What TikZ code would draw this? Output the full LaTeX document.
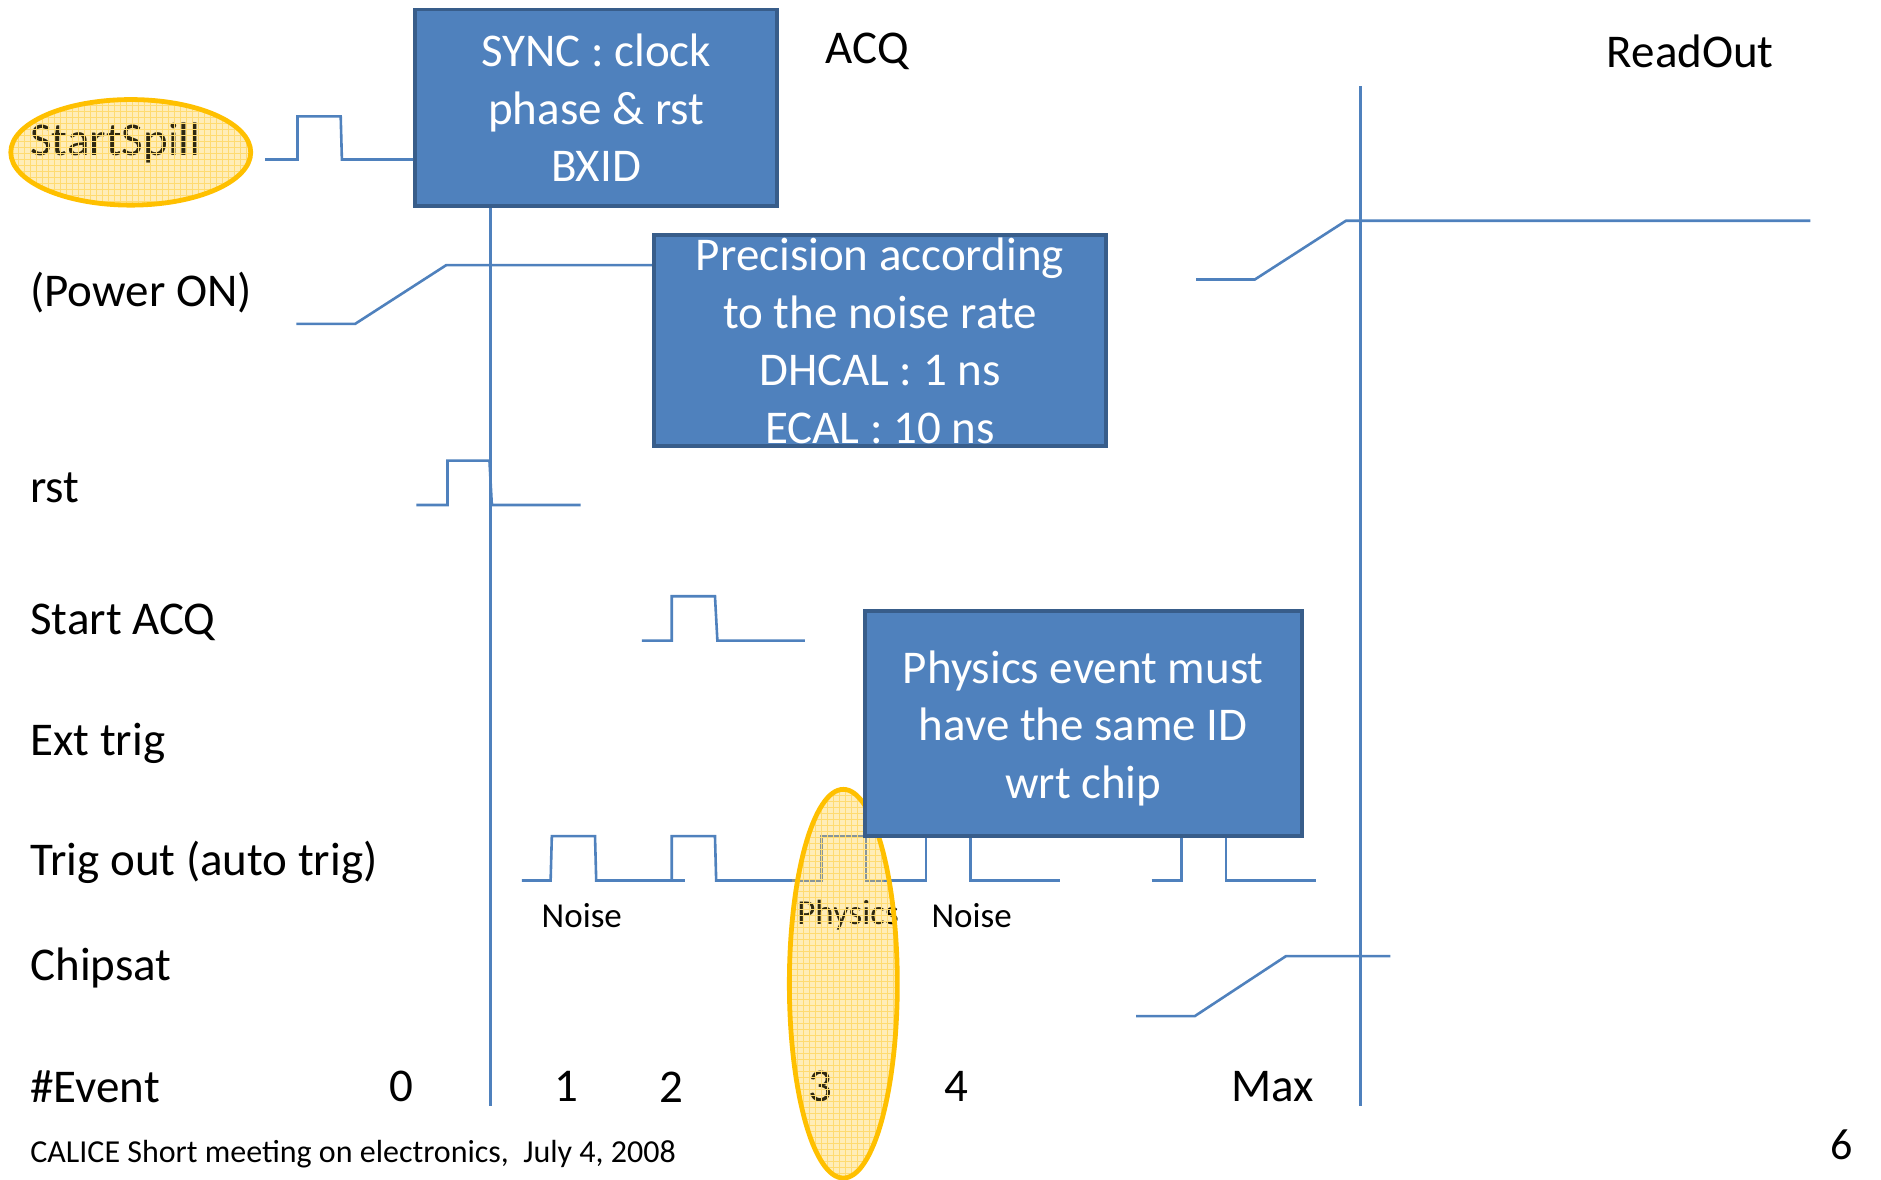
\documentclass[tikz,border=0pt]{standalone}
\usepackage{fontspec}
\setmainfont{Carlito}
\usetikzlibrary{shapes.geometric,patterns}
\definecolor{wave}{HTML}{4F81BD}
\definecolor{boxfill}{HTML}{4F81BD}
\definecolor{boxline}{HTML}{385D8A}
\definecolor{hiline}{HTML}{FFC000}
\definecolor{hifill}{HTML}{FFD24D}
\definecolor{hibase}{HTML}{FFEDB8}
\definecolor{hitext}{HTML}{2E2810}
\tikzset{
  wavel/.style={draw=wave, line width=1.3pt, line join=miter},
  bluebox/.style={rectangle, fill=boxfill, draw=boxline, line width=1.9pt, text=white,
    align=center, inner sep=0pt, font=\fontsize{23.5}{28.8}\selectfont},
  rowlabel/.style={anchor=west, inner sep=0pt, font=\fontsize{23.5}{28}\selectfont},
  numlabel/.style={inner sep=0pt, font=\fontsize{23.5}{28}\selectfont},
  small/.style={inner sep=0pt, font=\fontsize{17.5}{21}\selectfont},
  hibg/.style={ellipse, inner sep=0pt, fill=hibase},
  hiell/.style={ellipse, draw=hiline, line width=2.4pt, inner sep=0pt,
    pattern=grid, pattern color=hifill!80}
}
\begin{document}
\begin{tikzpicture}[x=0.6pt, y=-0.6pt]
\useasboundingbox (0,0) rectangle (1568,983);

% highlight backgrounds
\node[hibg, minimum width=120pt, minimum height=52.8pt] (hsbg) at (109,127) {};
\node[hibg, minimum width=54pt, minimum height=194.4pt] (hpbg) at (703,820) {};

% titles
\node[numlabel] (acq) at (723,43) {ACQ};
\node[numlabel] (readout) at (1409,43) {ReadOut};

% row labels
\node[rowlabel, text=hitext] (lstart) at (25,119) {StartSpill};
\node[rowlabel] (lpower) at (25,244) {(Power ON)};
\node[rowlabel] (lrst) at (25,407) {rst};
\node[rowlabel] (lacq) at (25,519) {Start ACQ};
\node[rowlabel] (lext) at (25,620) {Ext trig};
\node[rowlabel] (ltrig) at (25,719) {Trig out (auto trig)};
\node[rowlabel] (lchip) at (25,807) {Chipsat};
\node[rowlabel] (levent) at (25,906) {\#Event};

% event numbers
\node[numlabel] (e0) at (335,906) {0};
\node[numlabel] (e1) at (472,906) {1};
\node[numlabel] (e2) at (560,906) {2};
\node[numlabel, text=hitext] (e3) at (684,906) {3};
\node[numlabel] (e4) at (797,906) {4};
\node[numlabel] (emax) at (1061,906) {Max};

% small labels
\node[small] (n1) at (485,763) {Noise};
\node[small] (ph) at (707,763) {{\color{hitext}Physic}s};
\node[small] (n2) at (810,763) {Noise};

% footer
\node[anchor=west, inner sep=0pt, font=\fontsize{16}{19}\selectfont] (foot) at (25,962) {CALICE Short meeting on electronics,\ \ July 4, 2008};
\node[inner sep=0pt, font=\fontsize{22}{26}\selectfont] (page) at (1535,954) {6};

% vertical lines
\coordinate (v1b) at (409,922);
\coordinate (v2t) at (1134,72);
\coordinate (v2b) at (1134,922);

% boxes (sync + precision)
\node[bluebox, minimum width=181.2pt, minimum height=98.4pt] (sync) at (497,90)
  {SYNC : clock\\phase \& rst\\BXID};
\draw[wavel] (sync.south -| v1b) -- (v1b);
\draw[wavel] (v2t) -- (v2b);

% StartSpill waveform
\draw[wavel] (221,133) -- (248,133) -- (248,97) -- (284,97) -- (285,133) -- (sync.west |- 0,133);

% Power ON
\node[bluebox, minimum width=226.2pt, minimum height=105.6pt] (prec) at (733.5,284)
  {Precision according\\to the noise rate\\DHCAL : 1 ns\\ECAL : 10 ns};
\draw[wavel] (247,270) -- (296,270) -- (372,221) -- (prec.west |- 0,221);
\draw[wavel] (997,233) -- (1046,233) -- (1122,184) -- (1509,184);

% rst
\draw[wavel] (347,421) -- (373,421) -- (373,384) -- (408,384) -- (410,421) -- (484,421);
% Start ACQ
\draw[wavel] (535,534) -- (560,534) -- (560,497) -- (596,497) -- (598,534) -- (671,534);
% Trig out
\draw[wavel] (435,734) -- (459,734) -- (460,697) -- (496,697) -- (497,734) -- (571,734);
\draw[wavel] (534,734) -- (560,734) -- (560,697) -- (596,697) -- (597,734) -- (682,734);
\draw[wavel, draw=wave!70!black!60!hibase] (660,734) -- (685,734) -- (685,697) -- (722,697) -- (722,734) -- (773,734);
\draw[wavel] (737,734) -- (772,734) -- (772,697) -- (809,697) -- (809,734) -- (884,734);
\draw[wavel] (960,734) -- (985,734) -- (985,697) -- (1022,697) -- (1022,734) -- (1097,734);
% Chipsat
\draw[wavel] (947,847) -- (996,847) -- (1072,797) -- (1159,797);

% highlight ellipses (pattern + border on top)
\node[hiell, minimum width=120pt, minimum height=52.8pt] (hs) at (109,127) {};
\node[hiell, minimum width=54pt, minimum height=194.4pt] (hp) at (703,820) {};

% physics box on top
\node[bluebox, minimum width=218.4pt, minimum height=112.8pt] (phys) at (903,603)
  {\rule{0pt}{21.2pt}Physics event must\\have the same ID\\wrt chip};
\end{tikzpicture}
\end{document}
